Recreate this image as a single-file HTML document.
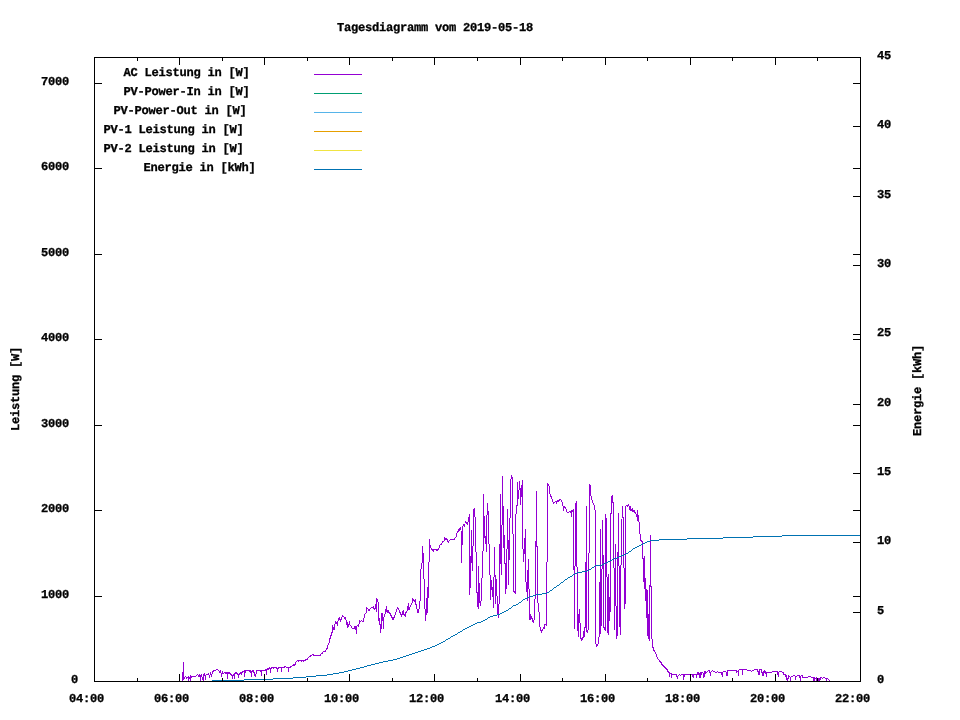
<!DOCTYPE html>
<html><head><meta charset="utf-8"><title>Tagesdiagramm</title>
<style>html,body{margin:0;padding:0;background:#fff;}body{width:960px;height:720px;overflow:hidden;}svg{display:block;}text{font-family:"Liberation Mono",monospace;font-weight:bold;text-rendering:geometricPrecision;font-size:12.1px;letter-spacing:-0.26px;fill:#000;stroke:#000;stroke-width:0.3px;}</style></head><body>
<svg width="960" height="720" viewBox="0 0 960 720">
<rect x="0" y="0" width="960" height="720" fill="#fff"/>
<g opacity="0.999">
<text x="337" y="31">Tagesdiagramm vom 2019-05-18</text>
<text x="71" y="683">0</text>
<text x="41" y="598">1000</text>
<text x="41" y="512">2000</text>
<text x="41" y="427">3000</text>
<text x="41" y="341">4000</text>
<text x="41" y="256">5000</text>
<text x="41" y="170">6000</text>
<text x="41" y="85">7000</text>
<text x="877" y="683">0</text>
<text x="877" y="614">5</text>
<text x="877" y="544">10</text>
<text x="877" y="475">15</text>
<text x="877" y="406">20</text>
<text x="877" y="336">25</text>
<text x="877" y="267">30</text>
<text x="877" y="198">35</text>
<text x="877" y="128">40</text>
<text x="877" y="59">45</text>
<text x="69" y="702">04:00</text>
<text x="154" y="702">06:00</text>
<text x="239" y="702">08:00</text>
<text x="324" y="702">10:00</text>
<text x="409" y="702">12:00</text>
<text x="495" y="702">14:00</text>
<text x="580" y="702">16:00</text>
<text x="665" y="702">18:00</text>
<text x="750" y="702">20:00</text>
<text x="835" y="702">22:00</text>
<text x="123.5" y="76">AC Leistung in [W]</text>
<text x="123.5" y="95">PV-Power-In in [W]</text>
<text x="113.5" y="114">PV-Power-Out in [W]</text>
<text x="103.5" y="133">PV-1 Leistung in [W]</text>
<text x="103.5" y="152">PV-2 Leistung in [W]</text>
<text x="143.5" y="171">Energie in [kWh]</text>
<text transform="translate(19,431) rotate(-90)">Leistung [W]</text>
<text transform="translate(921,436) rotate(-90)">Energie [kWh]</text>
</g>
<g stroke-width="1" fill="none" shape-rendering="crispEdges">
<line x1="314" y1="74.5" x2="362" y2="74.5" stroke="#9400d3"/>
<line x1="314" y1="93.5" x2="362" y2="93.5" stroke="#009e73"/>
<line x1="314" y1="112.5" x2="362" y2="112.5" stroke="#56b4e9"/>
<line x1="314" y1="131.5" x2="362" y2="131.5" stroke="#e69f00"/>
<line x1="314" y1="150.5" x2="362" y2="150.5" stroke="#f0e442"/>
<line x1="314" y1="169.5" x2="362" y2="169.5" stroke="#0072b2"/>
</g>
<g shape-rendering="crispEdges" stroke="none">
<path fill="#9400d3" d="M182 672v9h1v-9zM183 662v18h1v-18zM184 677v2h1v-2zM185 676v1h1v-1zM186 677v2h1v-2zM187 677v1h1v-1zM188 676v5h1v-5zM189 677v2h1v-2zM190 675v6h1v-6zM191 676v2h1v-2zM192 676v1h1v-1zM193 676v1h1v-1zM194 676v1h1v-1zM195 676v1h1v-1zM196 675v1h1v-1zM197 674v1h1v-1zM198 675v2h1v-2zM199 674v3h1v-3zM200 675v6h1v-6zM201 674v3h1v-3zM202 677v3h1v-3zM203 674v7h1v-7zM204 673v3h1v-3zM205 675v5h1v-5zM206 674v1h1v-1zM207 674v1h1v-1zM208 673v2h1v-2zM209 675v3h1v-3zM210 672v3h1v-3zM211 674v3h1v-3zM212 671v3h1v-3zM213 670v2h1v-2zM214 670v1h1v-1zM215 670v1h1v-1zM216 669v1h1v-1zM217 669v1h1v-1zM218 670v1h1v-1zM219 671v2h1v-2zM220 670v3h1v-3zM221 673v4h1v-4zM222 671v3h1v-3zM223 673v1h1v-1zM224 672v1h1v-1zM225 672v2h1v-2zM226 672v2h1v-2zM227 672v7h1v-7zM228 672v2h1v-2zM229 672v2h1v-2zM230 673v2h1v-2zM231 674v2h1v-2zM232 675v4h1v-4zM233 674v2h1v-2zM234 673v6h1v-6zM235 672v2h1v-2zM236 672v2h1v-2zM237 673v2h1v-2zM238 674v4h1v-4zM239 673v2h1v-2zM240 672v2h1v-2zM241 672v3h1v-3zM242 671v2h1v-2zM243 671v1h1v-1zM244 670v7h1v-7zM245 670v3h1v-3zM246 670v1h1v-1zM247 670v1h1v-1zM248 670v1h1v-1zM249 670v2h1v-2zM250 670v3h1v-3zM251 671v6h1v-6zM252 670v2h1v-2zM253 670v3h1v-3zM254 672v4h1v-4zM255 674v3h1v-3zM256 670v4h1v-4zM257 670v1h1v-1zM258 670v1h1v-1zM259 670v1h1v-1zM260 670v2h1v-2zM261 670v6h1v-6zM262 670v1h1v-1zM263 670v1h1v-1zM264 670v1h1v-1zM265 669v2h1v-2zM266 669v6h1v-6zM267 668v2h1v-2zM268 668v2h1v-2zM269 667v2h1v-2zM270 668v5h1v-5zM271 667v2h1v-2zM272 667v1h1v-1zM273 667v2h1v-2zM274 667v1h1v-1zM275 667v1h1v-1zM276 667v2h1v-2zM277 668v4h1v-4zM278 667v2h1v-2zM279 667v1h1v-1zM280 667v1h1v-1zM281 667v5h1v-5zM282 667v1h1v-1zM283 667v1h1v-1zM284 666v2h1v-2zM285 666v1h1v-1zM286 667v1h1v-1zM287 667v1h1v-1zM288 667v5h1v-5zM289 667v1h1v-1zM290 666v2h1v-2zM291 666v1h1v-1zM292 665v1h1v-1zM293 664v2h1v-2zM294 664v2h1v-2zM295 662v3h1v-3zM296 661v1h1v-1zM297 660v1h1v-1zM298 660v2h1v-2zM299 660v1h1v-1zM300 660v1h1v-1zM301 660v2h1v-2zM302 660v1h1v-1zM303 660v2h1v-2zM304 660v1h1v-1zM305 659v2h1v-2zM306 659v1h1v-1zM307 658v2h1v-2zM308 657v1h1v-1zM309 656v1h1v-1zM310 655v2h1v-2zM311 655v1h1v-1zM312 654v1h1v-1zM313 654v2h1v-2zM314 655v1h1v-1zM315 655v1h1v-1zM316 655v1h1v-1zM317 655v1h1v-1zM318 655v1h1v-1zM319 655v1h1v-1zM320 654v2h1v-2zM321 653v1h1v-1zM322 652v2h1v-2zM323 651v1h1v-1zM324 651v1h1v-1zM325 650v2h1v-2zM326 648v2h1v-2zM327 645v4h1v-4zM328 643v2h1v-2zM329 638v5h1v-5zM330 635v4h1v-4zM331 632v4h1v-4zM332 625v8h1v-8zM333 627v3h1v-3zM334 624v6h1v-6zM335 621v3h1v-3zM336 622v2h1v-2zM337 621v5h1v-5zM338 618v3h1v-3zM339 617v3h1v-3zM340 619v3h1v-3zM341 617v3h1v-3zM342 615v2h1v-2zM343 616v1h1v-1zM344 617v2h1v-2zM345 617v3h1v-3zM346 620v5h1v-5zM347 622v6h1v-6zM348 624v3h1v-3zM349 621v4h1v-4zM350 625v1h1v-1zM351 626v2h1v-2zM352 628v1h1v-1zM353 628v1h1v-1zM354 626v3h1v-3zM355 626v4h1v-4zM356 626v8h1v-8zM357 625v1h1v-1zM358 624v3h1v-3zM359 620v4h1v-4zM360 621v1h1v-1zM361 620v1h1v-1zM362 621v1h1v-1zM363 618v4h1v-4zM364 614v4h1v-4zM365 613v1h1v-1zM366 607v6h1v-6zM367 608v1h1v-1zM368 609v2h1v-2zM369 609v2h1v-2zM370 608v1h1v-1zM371 607v1h1v-1zM372 607v1h1v-1zM373 606v3h1v-3zM374 608v2h1v-2zM375 604v5h1v-5zM376 598v14h1v-14zM377 599v3h1v-3zM378 602v19h1v-19zM379 618v7h1v-7zM380 624v9h1v-9zM381 613v16h1v-16zM382 613v8h1v-8zM383 617v12h1v-12zM384 614v3h1v-3zM385 609v5h1v-5zM386 606v6h1v-6zM387 610v3h1v-3zM388 610v3h1v-3zM389 612v2h1v-2zM390 613v3h1v-3zM391 615v3h1v-3zM392 617v3h1v-3zM393 617v3h1v-3zM394 615v3h1v-3zM395 612v3h1v-3zM396 609v3h1v-3zM397 607v2h1v-2zM398 608v2h1v-2zM399 610v3h1v-3zM400 612v3h1v-3zM401 614v3h1v-3zM402 611v4h1v-4zM403 610v5h1v-5zM404 614v2h1v-2zM405 612v5h1v-5zM406 611v2h1v-2zM407 606v5h1v-5zM408 603v7h1v-7zM409 607v3h1v-3zM410 605v2h1v-2zM411 603v2h1v-2zM412 598v5h1v-5zM413 599v2h1v-2zM414 600v2h1v-2zM415 599v6h1v-6zM416 604v5h1v-5zM417 609v4h1v-4zM418 609v4h1v-4zM419 601v8h1v-8zM420 569v32h1v-32zM421 563v6h1v-6zM422 546v17h1v-17zM423 553v26h1v-26zM424 579v30h1v-30zM425 609v12h1v-12zM426 598v17h1v-17zM427 587v26h1v-26zM428 562v36h1v-36zM429 539v23h1v-23zM430 545v3h1v-3zM431 548v2h1v-2zM432 549v2h1v-2zM433 549v3h1v-3zM434 549v1h1v-1zM435 549v1h1v-1zM436 549v2h1v-2zM437 549v2h1v-2zM438 548v2h1v-2zM439 545v3h1v-3zM440 544v1h1v-1zM441 543v2h1v-2zM442 541v2h1v-2zM443 541v1h1v-1zM444 537v4h1v-4zM445 538v2h1v-2zM446 538v2h1v-2zM447 539v3h1v-3zM448 541v2h1v-2zM449 540v1h1v-1zM450 539v1h1v-1zM451 539v1h1v-1zM452 539v1h1v-1zM453 539v1h1v-1zM454 538v2h1v-2zM455 537v1h1v-1zM456 533v4h1v-4zM457 531v2h1v-2zM458 529v3h1v-3zM459 528v3h1v-3zM460 527v3h1v-3zM461 531v32h1v-32zM462 526v19h1v-19zM463 524v2h1v-2zM464 524v3h1v-3zM465 521v2h1v-2zM466 522v2h1v-2zM467 522v3h1v-3zM468 517v5h1v-5zM469 514v81h1v-81zM470 556v32h1v-32zM471 530v33h1v-33zM472 546v25h1v-25zM473 509v37h1v-37zM474 508v9h1v-9zM475 517v35h1v-35zM476 552v41h1v-41zM477 592v15h1v-15zM478 566v43h1v-43zM479 583v20h1v-20zM480 601v5h1v-5zM481 578v23h1v-23zM482 551v27h1v-27zM483 494v57h1v-57zM484 516v22h1v-22zM485 536v8h1v-8zM486 515v37h1v-37zM487 503v12h1v-12zM488 511v33h1v-33zM489 544v31h1v-31zM490 575v25h1v-25zM491 580v10h1v-10zM492 587v10h1v-10zM493 577v31h1v-31zM494 547v30h1v-30zM495 575v29h1v-29zM496 579v17h1v-17zM497 596v18h1v-18zM498 604v14h1v-14zM499 544v60h1v-60zM500 494v70h1v-70zM501 525v50h1v-50zM502 476v49h1v-49zM503 506v42h1v-42zM504 535v29h1v-29zM505 563v31h1v-31zM506 549v40h1v-40zM507 509v40h1v-40zM508 540v45h1v-45zM509 518v42h1v-42zM510 479v39h1v-39zM511 475v4h1v-4zM512 477v57h1v-57zM513 534v58h1v-58zM514 591v2h1v-2zM515 514v80h1v-80zM516 505v9h1v-9zM517 482v24h1v-24zM518 490v9h1v-9zM519 481v9h1v-9zM520 488v17h1v-17zM521 485v12h1v-12zM522 480v69h1v-69zM523 549v13h1v-13zM524 538v16h1v-16zM525 529v53h1v-53zM526 582v10h1v-10zM527 570v31h1v-31zM528 559v30h1v-30zM529 589v31h1v-31zM530 614v6h1v-6zM531 616v3h1v-3zM532 618v4h1v-4zM533 620v3h1v-3zM534 599v21h1v-21zM535 541v58h1v-58zM536 491v56h1v-56zM537 546v57h1v-57zM538 603v9h1v-9zM539 612v15h1v-15zM540 627v4h1v-4zM541 630v3h1v-3zM542 629v2h1v-2zM543 627v2h1v-2zM544 624v5h1v-5zM545 624v1h1v-1zM546 562v64h1v-64zM547 483v79h1v-79zM548 484v2h1v-2zM549 486v8h1v-8zM550 494v3h1v-3zM551 496v3h1v-3zM552 499v3h1v-3zM553 502v2h1v-2zM554 502v1h1v-1zM555 501v1h1v-1zM556 501v3h1v-3zM557 500v2h1v-2zM558 500v2h1v-2zM559 499v2h1v-2zM560 499v1h1v-1zM561 500v2h1v-2zM562 502v4h1v-4zM563 506v5h1v-5zM564 506v2h1v-2zM565 507v2h1v-2zM566 509v3h1v-3zM567 512v1h1v-1zM568 512v1h1v-1zM569 511v1h1v-1zM570 511v2h1v-2zM571 510v7h1v-7zM572 510v2h1v-2zM573 509v61h1v-61zM574 566v63h1v-63zM575 503v63h1v-63zM576 501v66h1v-66zM577 567v64h1v-64zM578 614v23h1v-23zM579 609v14h1v-14zM580 623v16h1v-16zM581 638v3h1v-3zM582 637v3h1v-3zM583 631v7h1v-7zM584 627v10h1v-10zM585 562v66h1v-66zM586 506v126h1v-126zM587 630v3h1v-3zM588 553v77h1v-77zM589 484v69h1v-69zM590 485v11h1v-11zM591 496v4h1v-4zM592 500v3h1v-3zM593 503v2h1v-2zM594 505v5h1v-5zM595 510v134h1v-134zM596 644v3h1v-3zM597 644v2h1v-2zM598 637v7h1v-7zM599 582v55h1v-55zM600 529v105h1v-105zM601 569v57h1v-57zM602 520v49h1v-49zM603 555v73h1v-73zM604 627v3h1v-3zM605 514v117h1v-117zM606 518v59h1v-59zM607 577v56h1v-56zM608 574v61h1v-61zM609 597v24h1v-24zM610 513v99h1v-99zM611 496v18h1v-18zM612 495v8h1v-8zM613 502v66h1v-66zM614 568v62h1v-62zM615 544v62h1v-62zM616 606v33h1v-33zM617 552v84h1v-84zM618 513v53h1v-53zM619 566v61h1v-61zM620 565v70h1v-70zM621 519v46h1v-46zM622 506v12h1v-12zM623 517v51h1v-51zM624 568v41h1v-41zM625 506v98h1v-98zM626 505v1h1v-1zM627 505v2h1v-2zM628 504v2h1v-2zM629 506v4h1v-4zM630 506v5h1v-5zM631 509v2h1v-2zM632 508v4h1v-4zM633 510v2h1v-2zM634 510v3h1v-3zM635 512v2h1v-2zM636 514v3h1v-3zM637 510v11h1v-11zM638 515v7h1v-7zM639 522v12h1v-12zM640 534v7h1v-7zM641 540v2h1v-2zM642 541v18h1v-18zM643 558v24h1v-24zM644 556v33h1v-33zM645 578v23h1v-23zM646 589v29h1v-29zM647 590v46h1v-46zM648 614v25h1v-25zM649 585v56h1v-56zM650 535v52h1v-52zM651 586v53h1v-53zM652 639v9h1v-9zM653 647v4h1v-4zM654 650v2h1v-2zM655 652v2h1v-2zM656 654v3h1v-3zM657 657v2h1v-2zM658 659v1h1v-1zM659 660v2h1v-2zM660 661v2h1v-2zM661 662v3h1v-3zM662 664v2h1v-2zM663 665v2h1v-2zM664 666v2h1v-2zM665 667v2h1v-2zM666 668v2h1v-2zM667 669v3h1v-3zM668 671v2h1v-2zM669 672v5h1v-5zM670 673v1h1v-1zM671 673v5h1v-5zM672 674v1h1v-1zM673 674v1h1v-1zM674 674v1h1v-1zM675 674v1h1v-1zM676 674v3h1v-3zM677 676v3h1v-3zM678 675v1h1v-1zM679 674v1h1v-1zM680 675v1h1v-1zM681 674v1h1v-1zM682 674v1h1v-1zM683 674v6h1v-6zM684 674v3h1v-3zM685 674v1h1v-1zM686 674v1h1v-1zM687 674v1h1v-1zM688 674v1h1v-1zM689 674v1h1v-1zM690 674v1h1v-1zM691 674v1h1v-1zM692 674v3h1v-3zM693 674v4h1v-4zM694 674v1h1v-1zM695 674v1h1v-1zM696 674v4h1v-4zM697 672v3h1v-3zM698 672v3h1v-3zM699 673v5h1v-5zM700 672v6h1v-6zM701 672v3h1v-3zM702 672v1h1v-1zM703 673v5h1v-5zM704 671v6h1v-6zM705 671v3h1v-3zM706 672v1h1v-1zM707 671v1h1v-1zM708 670v1h1v-1zM709 670v3h1v-3zM710 672v4h1v-4zM711 671v1h1v-1zM712 670v1h1v-1zM713 671v1h1v-1zM714 671v1h1v-1zM715 672v1h1v-1zM716 672v1h1v-1zM717 671v1h1v-1zM718 672v1h1v-1zM719 672v1h1v-1zM720 672v1h1v-1zM721 672v3h1v-3zM722 672v5h1v-5zM723 671v1h1v-1zM724 671v1h1v-1zM725 671v1h1v-1zM726 672v4h1v-4zM727 670v6h1v-6zM728 670v1h1v-1zM729 670v1h1v-1zM730 670v1h1v-1zM731 670v1h1v-1zM732 670v1h1v-1zM733 670v1h1v-1zM734 670v1h1v-1zM735 670v1h1v-1zM736 670v3h1v-3zM737 671v1h1v-1zM738 670v6h1v-6zM739 669v1h1v-1zM740 669v1h1v-1zM741 669v1h1v-1zM742 669v6h1v-6zM743 669v1h1v-1zM744 669v1h1v-1zM745 669v1h1v-1zM746 669v1h1v-1zM747 670v1h1v-1zM748 670v1h1v-1zM749 670v1h1v-1zM750 670v1h1v-1zM751 671v1h1v-1zM752 670v1h1v-1zM753 670v1h1v-1zM754 669v1h1v-1zM755 669v1h1v-1zM756 669v1h1v-1zM757 669v3h1v-3zM758 671v4h1v-4zM759 669v6h1v-6zM760 669v1h1v-1zM761 669v4h1v-4zM762 672v4h1v-4zM763 671v5h1v-5zM764 670v3h1v-3zM765 671v3h1v-3zM766 672v5h1v-5zM767 672v1h1v-1zM768 672v1h1v-1zM769 672v1h1v-1zM770 672v1h1v-1zM771 672v1h1v-1zM772 671v1h1v-1zM773 671v1h1v-1zM774 671v1h1v-1zM775 671v1h1v-1zM776 671v1h1v-1zM777 671v4h1v-4zM778 672v5h1v-5zM779 671v1h1v-1zM780 671v1h1v-1zM781 671v1h1v-1zM782 672v1h1v-1zM783 672v3h1v-3zM784 674v1h1v-1zM785 674v3h1v-3zM786 675v5h1v-5zM787 678v3h1v-3zM788 675v4h1v-4zM789 676v1h1v-1zM790 677v4h1v-4zM791 676v1h1v-1zM792 676v1h1v-1zM793 675v1h1v-1zM794 675v1h1v-1zM795 676v4h1v-4zM796 676v1h1v-1zM797 675v1h1v-1zM798 675v1h1v-1zM799 675v3h1v-3zM800 676v5h1v-5zM801 675v1h1v-1zM802 675v3h1v-3zM803 677v1h1v-1zM804 677v1h1v-1zM805 677v1h1v-1zM806 677v1h1v-1zM807 677v1h1v-1zM808 676v1h1v-1zM809 676v1h1v-1zM810 676v1h1v-1zM811 677v1h1v-1zM812 677v1h1v-1zM813 677v4h1v-4zM814 677v4h1v-4zM815 678v1h1v-1zM816 677v4h1v-4zM817 678v1h1v-1zM818 678v3h1v-3zM819 678v3h1v-3zM820 677v3h1v-3zM821 677v1h1v-1zM822 678v1h1v-1zM823 677v1h1v-1zM824 677v1h1v-1zM825 678v1h1v-1zM826 678v3h1v-3zM827 678v1h1v-1zM828 679v1h1v-1zM829 680v1h1v-1z"/>
<path fill="#0072b2" d="M212 680v1h1v-1zM213 680v1h1v-1zM214 680v1h1v-1zM215 680v1h1v-1zM216 680v1h1v-1zM217 680v1h1v-1zM218 680v1h1v-1zM219 680v1h1v-1zM220 680v1h1v-1zM221 680v1h1v-1zM222 680v1h1v-1zM223 680v1h1v-1zM224 680v1h1v-1zM225 680v1h1v-1zM226 680v1h1v-1zM227 680v1h1v-1zM228 680v1h1v-1zM229 680v1h1v-1zM230 680v1h1v-1zM231 680v1h1v-1zM232 680v1h1v-1zM233 680v1h1v-1zM234 680v1h1v-1zM235 680v1h1v-1zM236 680v1h1v-1zM237 680v1h1v-1zM238 680v1h1v-1zM239 680v1h1v-1zM240 680v1h1v-1zM241 680v1h1v-1zM242 680v1h1v-1zM243 680v1h1v-1zM244 679v1h1v-1zM245 679v1h1v-1zM246 679v1h1v-1zM247 679v1h1v-1zM248 679v1h1v-1zM249 679v1h1v-1zM250 679v1h1v-1zM251 679v1h1v-1zM252 679v1h1v-1zM253 679v1h1v-1zM254 679v1h1v-1zM255 679v1h1v-1zM256 679v1h1v-1zM257 679v1h1v-1zM258 679v1h1v-1zM259 679v1h1v-1zM260 679v1h1v-1zM261 679v1h1v-1zM262 679v1h1v-1zM263 679v1h1v-1zM264 679v1h1v-1zM265 679v1h1v-1zM266 679v1h1v-1zM267 679v1h1v-1zM268 679v1h1v-1zM269 679v1h1v-1zM270 679v1h1v-1zM271 679v1h1v-1zM272 679v1h1v-1zM273 678v1h1v-1zM274 678v1h1v-1zM275 678v1h1v-1zM276 678v1h1v-1zM277 678v1h1v-1zM278 678v1h1v-1zM279 678v1h1v-1zM280 678v1h1v-1zM281 678v1h1v-1zM282 678v1h1v-1zM283 678v1h1v-1zM284 678v1h1v-1zM285 678v1h1v-1zM286 678v1h1v-1zM287 678v1h1v-1zM288 678v1h1v-1zM289 678v1h1v-1zM290 678v1h1v-1zM291 678v1h1v-1zM292 678v1h1v-1zM293 677v1h1v-1zM294 677v1h1v-1zM295 677v1h1v-1zM296 677v1h1v-1zM297 677v1h1v-1zM298 677v1h1v-1zM299 677v1h1v-1zM300 677v1h1v-1zM301 677v1h1v-1zM302 677v1h1v-1zM303 677v1h1v-1zM304 677v1h1v-1zM305 677v1h1v-1zM306 676v1h1v-1zM307 676v1h1v-1zM308 676v1h1v-1zM309 676v1h1v-1zM310 676v1h1v-1zM311 676v1h1v-1zM312 676v1h1v-1zM313 676v1h1v-1zM314 676v1h1v-1zM315 676v1h1v-1zM316 675v1h1v-1zM317 675v1h1v-1zM318 675v1h1v-1zM319 675v1h1v-1zM320 675v1h1v-1zM321 675v1h1v-1zM322 675v1h1v-1zM323 675v1h1v-1zM324 675v1h1v-1zM325 675v1h1v-1zM326 675v1h1v-1zM327 674v1h1v-1zM328 674v1h1v-1zM329 674v1h1v-1zM330 674v1h1v-1zM331 674v1h1v-1zM332 674v1h1v-1zM333 673v1h1v-1zM334 673v1h1v-1zM335 673v1h1v-1zM336 673v1h1v-1zM337 673v1h1v-1zM338 673v1h1v-1zM339 672v1h1v-1zM340 672v1h1v-1zM341 672v1h1v-1zM342 672v1h1v-1zM343 672v1h1v-1zM344 671v1h1v-1zM345 671v1h1v-1zM346 671v1h1v-1zM347 671v1h1v-1zM348 670v1h1v-1zM349 670v1h1v-1zM350 670v1h1v-1zM351 670v1h1v-1zM352 669v1h1v-1zM353 669v1h1v-1zM354 669v1h1v-1zM355 669v1h1v-1zM356 668v1h1v-1zM357 668v1h1v-1zM358 668v1h1v-1zM359 668v1h1v-1zM360 667v1h1v-1zM361 667v1h1v-1zM362 667v1h1v-1zM363 667v1h1v-1zM364 666v1h1v-1zM365 666v1h1v-1zM366 666v1h1v-1zM367 665v1h1v-1zM368 665v1h1v-1zM369 665v1h1v-1zM370 665v1h1v-1zM371 664v1h1v-1zM372 664v1h1v-1zM373 664v1h1v-1zM374 664v1h1v-1zM375 663v1h1v-1zM376 663v1h1v-1zM377 663v1h1v-1zM378 663v1h1v-1zM379 662v1h1v-1zM380 662v1h1v-1zM381 662v1h1v-1zM382 662v1h1v-1zM383 661v1h1v-1zM384 661v1h1v-1zM385 661v1h1v-1zM386 661v1h1v-1zM387 661v1h1v-1zM388 660v1h1v-1zM389 660v1h1v-1zM390 660v1h1v-1zM391 660v1h1v-1zM392 660v1h1v-1zM393 659v1h1v-1zM394 659v1h1v-1zM395 659v1h1v-1zM396 659v1h1v-1zM397 658v1h1v-1zM398 658v1h1v-1zM399 658v1h1v-1zM400 657v1h1v-1zM401 657v1h1v-1zM402 657v1h1v-1zM403 656v1h1v-1zM404 656v1h1v-1zM405 656v1h1v-1zM406 655v1h1v-1zM407 655v1h1v-1zM408 655v1h1v-1zM409 654v1h1v-1zM410 654v1h1v-1zM411 654v1h1v-1zM412 653v1h1v-1zM413 653v1h1v-1zM414 653v1h1v-1zM415 652v1h1v-1zM416 652v1h1v-1zM417 652v1h1v-1zM418 651v1h1v-1zM419 651v1h1v-1zM420 651v1h1v-1zM421 650v1h1v-1zM422 650v1h1v-1zM423 650v1h1v-1zM424 649v1h1v-1zM425 649v1h1v-1zM426 649v1h1v-1zM427 648v1h1v-1zM428 648v1h1v-1zM429 648v1h1v-1zM430 647v1h1v-1zM431 647v1h1v-1zM432 646v1h1v-1zM433 646v1h1v-1zM434 646v1h1v-1zM435 645v1h1v-1zM436 645v1h1v-1zM437 644v1h1v-1zM438 644v1h1v-1zM439 643v1h1v-1zM440 643v1h1v-1zM441 642v1h1v-1zM442 642v1h1v-1zM443 641v1h1v-1zM444 641v1h1v-1zM445 640v1h1v-1zM446 639v1h1v-1zM447 639v1h1v-1zM448 638v1h1v-1zM449 638v1h1v-1zM450 637v1h1v-1zM451 636v1h1v-1zM452 636v1h1v-1zM453 635v1h1v-1zM454 635v1h1v-1zM455 634v1h1v-1zM456 634v1h1v-1zM457 633v1h1v-1zM458 632v1h1v-1zM459 632v1h1v-1zM460 631v1h1v-1zM461 631v1h1v-1zM462 630v1h1v-1zM463 629v1h1v-1zM464 629v1h1v-1zM465 628v1h1v-1zM466 628v1h1v-1zM467 627v1h1v-1zM468 627v1h1v-1zM469 626v1h1v-1zM470 626v1h1v-1zM471 625v1h1v-1zM472 625v1h1v-1zM473 624v1h1v-1zM474 624v1h1v-1zM475 623v1h1v-1zM476 623v1h1v-1zM477 622v1h1v-1zM478 622v1h1v-1zM479 622v1h1v-1zM480 622v1h1v-1zM481 621v1h1v-1zM482 621v1h1v-1zM483 620v1h1v-1zM484 620v1h1v-1zM485 619v1h1v-1zM486 619v1h1v-1zM487 618v1h1v-1zM488 617v1h1v-1zM489 617v1h1v-1zM490 616v1h1v-1zM491 616v1h1v-1zM492 616v1h1v-1zM493 615v1h1v-1zM494 615v1h1v-1zM495 615v1h1v-1zM496 615v1h1v-1zM497 614v1h1v-1zM498 614v1h1v-1zM499 614v1h1v-1zM500 613v1h1v-1zM501 613v1h1v-1zM502 612v1h1v-1zM503 612v1h1v-1zM504 611v1h1v-1zM505 611v1h1v-1zM506 610v1h1v-1zM507 610v1h1v-1zM508 609v1h1v-1zM509 608v1h1v-1zM510 608v1h1v-1zM511 607v1h1v-1zM512 606v1h1v-1zM513 605v1h1v-1zM514 605v1h1v-1zM515 605v1h1v-1zM516 604v1h1v-1zM517 604v1h1v-1zM518 603v1h1v-1zM519 602v1h1v-1zM520 602v1h1v-1zM521 601v1h1v-1zM522 600v1h1v-1zM523 599v1h1v-1zM524 599v1h1v-1zM525 598v1h1v-1zM526 598v1h1v-1zM527 597v1h1v-1zM528 597v1h1v-1zM529 596v1h1v-1zM530 596v1h1v-1zM531 596v1h1v-1zM532 596v1h1v-1zM533 595v1h1v-1zM534 595v1h1v-1zM535 595v1h1v-1zM536 594v1h1v-1zM537 594v1h1v-1zM538 594v1h1v-1zM539 594v1h1v-1zM540 594v1h1v-1zM541 594v1h1v-1zM542 593v1h1v-1zM543 593v1h1v-1zM544 593v1h1v-1zM545 593v1h1v-1zM546 593v1h1v-1zM547 592v1h1v-1zM548 592v1h1v-1zM549 591v1h1v-1zM550 590v1h1v-1zM551 590v1h1v-1zM552 589v1h1v-1zM553 588v1h1v-1zM554 587v1h1v-1zM555 587v1h1v-1zM556 586v1h1v-1zM557 585v1h1v-1zM558 585v1h1v-1zM559 584v1h1v-1zM560 583v1h1v-1zM561 582v1h1v-1zM562 582v1h1v-1zM563 581v1h1v-1zM564 580v1h1v-1zM565 579v1h1v-1zM566 579v1h1v-1zM567 578v1h1v-1zM568 577v1h1v-1zM569 577v1h1v-1zM570 576v1h1v-1zM571 576v1h1v-1zM572 575v1h1v-1zM573 574v1h1v-1zM574 574v1h1v-1zM575 573v1h1v-1zM576 573v1h1v-1zM577 572v1h1v-1zM578 572v1h1v-1zM579 572v1h1v-1zM580 572v1h1v-1zM581 572v1h1v-1zM582 571v1h1v-1zM583 571v1h1v-1zM584 571v1h1v-1zM585 571v1h1v-1zM586 571v1h1v-1zM587 570v1h1v-1zM588 570v1h1v-1zM589 569v1h1v-1zM590 569v1h1v-1zM591 568v1h1v-1zM592 567v1h1v-1zM593 567v1h1v-1zM594 566v1h1v-1zM595 565v1h1v-1zM596 565v1h1v-1zM597 565v1h1v-1zM598 565v1h1v-1zM599 565v1h1v-1zM600 565v1h1v-1zM601 565v1h1v-1zM602 564v1h1v-1zM603 564v1h1v-1zM604 563v1h1v-1zM605 563v1h1v-1zM606 562v1h1v-1zM607 562v1h1v-1zM608 561v1h1v-1zM609 561v1h1v-1zM610 560v1h1v-1zM611 560v1h1v-1zM612 559v1h1v-1zM613 559v1h1v-1zM614 558v1h1v-1zM615 558v1h1v-1zM616 558v1h1v-1zM617 557v1h1v-1zM618 557v1h1v-1zM619 556v1h1v-1zM620 556v1h1v-1zM621 555v1h1v-1zM622 555v1h1v-1zM623 555v1h1v-1zM624 554v1h1v-1zM625 554v1h1v-1zM626 553v1h1v-1zM627 553v1h1v-1zM628 552v1h1v-1zM629 551v1h1v-1zM630 551v1h1v-1zM631 550v1h1v-1zM632 549v1h1v-1zM633 548v1h1v-1zM634 548v1h1v-1zM635 547v1h1v-1zM636 547v1h1v-1zM637 546v1h1v-1zM638 546v1h1v-1zM639 545v1h1v-1zM640 545v1h1v-1zM641 544v1h1v-1zM642 544v1h1v-1zM643 543v1h1v-1zM644 543v1h1v-1zM645 542v1h1v-1zM646 542v1h1v-1zM647 541v1h1v-1zM648 541v1h1v-1zM649 541v1h1v-1zM650 540v1h1v-1zM651 540v1h1v-1zM652 540v1h1v-1zM653 540v1h1v-1zM654 540v1h1v-1zM655 540v1h1v-1zM656 540v1h1v-1zM657 540v1h1v-1zM658 540v1h1v-1zM659 539v1h1v-1zM660 539v1h1v-1zM661 539v1h1v-1zM662 539v1h1v-1zM663 539v1h1v-1zM664 539v1h1v-1zM665 539v1h1v-1zM666 539v1h1v-1zM667 539v1h1v-1zM668 539v1h1v-1zM669 539v1h1v-1zM670 539v1h1v-1zM671 539v1h1v-1zM672 539v1h1v-1zM673 539v1h1v-1zM674 539v1h1v-1zM675 539v1h1v-1zM676 539v1h1v-1zM677 539v1h1v-1zM678 539v1h1v-1zM679 539v1h1v-1zM680 539v1h1v-1zM681 539v1h1v-1zM682 539v1h1v-1zM683 539v1h1v-1zM684 539v1h1v-1zM685 539v1h1v-1zM686 539v1h1v-1zM687 538v1h1v-1zM688 538v1h1v-1zM689 538v1h1v-1zM690 538v1h1v-1zM691 538v1h1v-1zM692 538v1h1v-1zM693 538v1h1v-1zM694 538v1h1v-1zM695 538v1h1v-1zM696 538v1h1v-1zM697 538v1h1v-1zM698 538v1h1v-1zM699 538v1h1v-1zM700 538v1h1v-1zM701 538v1h1v-1zM702 538v1h1v-1zM703 538v1h1v-1zM704 538v1h1v-1zM705 538v1h1v-1zM706 538v1h1v-1zM707 538v1h1v-1zM708 538v1h1v-1zM709 538v1h1v-1zM710 538v1h1v-1zM711 538v1h1v-1zM712 538v1h1v-1zM713 538v1h1v-1zM714 538v1h1v-1zM715 538v1h1v-1zM716 538v1h1v-1zM717 538v1h1v-1zM718 538v1h1v-1zM719 538v1h1v-1zM720 538v1h1v-1zM721 538v1h1v-1zM722 538v1h1v-1zM723 537v1h1v-1zM724 537v1h1v-1zM725 537v1h1v-1zM726 537v1h1v-1zM727 537v1h1v-1zM728 537v1h1v-1zM729 537v1h1v-1zM730 537v1h1v-1zM731 537v1h1v-1zM732 537v1h1v-1zM733 537v1h1v-1zM734 537v1h1v-1zM735 537v1h1v-1zM736 537v1h1v-1zM737 537v1h1v-1zM738 537v1h1v-1zM739 537v1h1v-1zM740 537v1h1v-1zM741 537v1h1v-1zM742 537v1h1v-1zM743 537v1h1v-1zM744 537v1h1v-1zM745 537v1h1v-1zM746 537v1h1v-1zM747 537v1h1v-1zM748 537v1h1v-1zM749 537v1h1v-1zM750 537v1h1v-1zM751 537v1h1v-1zM752 537v1h1v-1zM753 536v1h1v-1zM754 536v1h1v-1zM755 536v1h1v-1zM756 536v1h1v-1zM757 536v1h1v-1zM758 536v1h1v-1zM759 536v1h1v-1zM760 536v1h1v-1zM761 536v1h1v-1zM762 536v1h1v-1zM763 536v1h1v-1zM764 536v1h1v-1zM765 536v1h1v-1zM766 536v1h1v-1zM767 536v1h1v-1zM768 536v1h1v-1zM769 536v1h1v-1zM770 536v1h1v-1zM771 536v1h1v-1zM772 536v1h1v-1zM773 536v1h1v-1zM774 536v1h1v-1zM775 536v1h1v-1zM776 536v1h1v-1zM777 536v1h1v-1zM778 536v1h1v-1zM779 536v1h1v-1zM780 536v1h1v-1zM781 536v1h1v-1zM782 535v1h1v-1zM783 535v1h1v-1zM784 535v1h1v-1zM785 535v1h1v-1zM786 535v1h1v-1zM787 535v1h1v-1zM788 535v1h1v-1zM789 535v1h1v-1zM790 535v1h1v-1zM791 535v1h1v-1zM792 535v1h1v-1zM793 535v1h1v-1zM794 535v1h1v-1zM795 535v1h1v-1zM796 535v1h1v-1zM797 535v1h1v-1zM798 535v1h1v-1zM799 535v1h1v-1zM800 535v1h1v-1zM801 535v1h1v-1zM802 535v1h1v-1zM803 535v1h1v-1zM804 535v1h1v-1zM805 535v1h1v-1zM806 535v1h1v-1zM807 535v1h1v-1zM808 535v1h1v-1zM809 535v1h1v-1zM810 535v1h1v-1zM811 535v1h1v-1zM812 535v1h1v-1zM813 535v1h1v-1zM814 535v1h1v-1zM815 535v1h1v-1zM816 535v1h1v-1zM817 535v1h1v-1zM818 535v1h1v-1zM819 535v1h1v-1zM820 535v1h1v-1zM821 535v1h1v-1zM822 535v1h1v-1zM823 535v1h1v-1zM824 535v1h1v-1zM825 535v1h1v-1zM826 535v1h1v-1zM827 535v1h1v-1zM828 535v1h1v-1zM829 535v1h1v-1zM830 535v1h1v-1zM831 535v1h1v-1zM832 535v1h1v-1zM833 535v1h1v-1zM834 535v1h1v-1zM835 535v1h1v-1zM836 535v1h1v-1zM837 535v1h1v-1zM838 535v1h1v-1zM839 535v1h1v-1zM840 535v1h1v-1zM841 535v1h1v-1zM842 535v1h1v-1zM843 535v1h1v-1zM844 535v1h1v-1zM845 535v1h1v-1zM846 535v1h1v-1zM847 535v1h1v-1zM848 535v1h1v-1zM849 535v1h1v-1zM850 535v1h1v-1zM851 535v1h1v-1zM852 535v1h1v-1zM853 535v1h1v-1zM854 535v1h1v-1zM855 535v1h1v-1zM856 535v1h1v-1zM857 535v1h1v-1zM858 535v1h1v-1zM859 535v1h1v-1zM860 535v1h1v-1z"/>
</g>
<g fill="#000" stroke="none" shape-rendering="crispEdges">
<rect x="94" y="57" width="767" height="1"/>
<rect x="94" y="681" width="767" height="1"/>
<rect x="94" y="57" width="1" height="625"/>
<rect x="860" y="57" width="1" height="625"/>
<rect x="137" y="678" width="1" height="4"/>
<rect x="137" y="57" width="1" height="4"/>
<rect x="179" y="674" width="1" height="8"/>
<rect x="179" y="57" width="1" height="8"/>
<rect x="222" y="678" width="1" height="4"/>
<rect x="222" y="57" width="1" height="4"/>
<rect x="264" y="674" width="1" height="8"/>
<rect x="264" y="57" width="1" height="8"/>
<rect x="307" y="678" width="1" height="4"/>
<rect x="307" y="57" width="1" height="4"/>
<rect x="349" y="674" width="1" height="8"/>
<rect x="349" y="57" width="1" height="8"/>
<rect x="392" y="678" width="1" height="4"/>
<rect x="392" y="57" width="1" height="4"/>
<rect x="434" y="674" width="1" height="8"/>
<rect x="434" y="57" width="1" height="8"/>
<rect x="477" y="678" width="1" height="4"/>
<rect x="477" y="57" width="1" height="4"/>
<rect x="520" y="674" width="1" height="8"/>
<rect x="520" y="57" width="1" height="8"/>
<rect x="562" y="678" width="1" height="4"/>
<rect x="562" y="57" width="1" height="4"/>
<rect x="605" y="674" width="1" height="8"/>
<rect x="605" y="57" width="1" height="8"/>
<rect x="647" y="678" width="1" height="4"/>
<rect x="647" y="57" width="1" height="4"/>
<rect x="690" y="674" width="1" height="8"/>
<rect x="690" y="57" width="1" height="8"/>
<rect x="732" y="678" width="1" height="4"/>
<rect x="732" y="57" width="1" height="4"/>
<rect x="775" y="674" width="1" height="8"/>
<rect x="775" y="57" width="1" height="8"/>
<rect x="817" y="678" width="1" height="4"/>
<rect x="817" y="57" width="1" height="4"/>
<rect x="94" y="596" width="8" height="1"/>
<rect x="853" y="596" width="8" height="1"/>
<rect x="94" y="510" width="8" height="1"/>
<rect x="853" y="510" width="8" height="1"/>
<rect x="94" y="425" width="8" height="1"/>
<rect x="853" y="425" width="8" height="1"/>
<rect x="94" y="339" width="8" height="1"/>
<rect x="853" y="339" width="8" height="1"/>
<rect x="94" y="254" width="8" height="1"/>
<rect x="853" y="254" width="8" height="1"/>
<rect x="94" y="168" width="8" height="1"/>
<rect x="853" y="168" width="8" height="1"/>
<rect x="94" y="83" width="8" height="1"/>
<rect x="853" y="83" width="8" height="1"/>
<rect x="853" y="612" width="8" height="1"/>
<rect x="853" y="542" width="8" height="1"/>
<rect x="853" y="473" width="8" height="1"/>
<rect x="853" y="404" width="8" height="1"/>
<rect x="853" y="334" width="8" height="1"/>
<rect x="853" y="265" width="8" height="1"/>
<rect x="853" y="196" width="8" height="1"/>
<rect x="853" y="126" width="8" height="1"/>
</g>
</svg></body></html>
